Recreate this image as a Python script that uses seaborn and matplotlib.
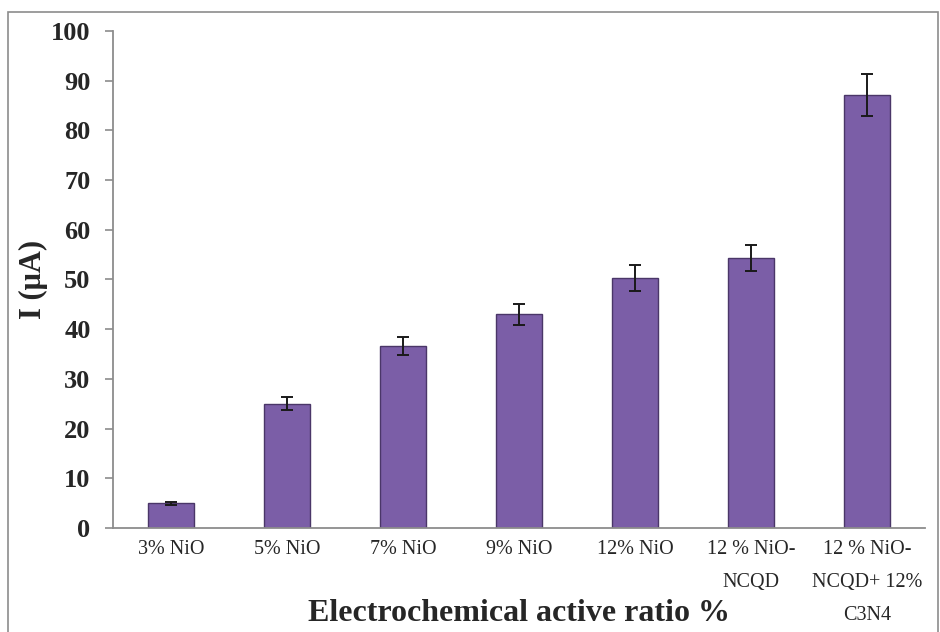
import matplotlib
matplotlib.use("Agg")
import matplotlib.pyplot as plt
import seaborn as sns
import pandas as pd
import numpy as np
from matplotlib.patches import Rectangle

categories = ["3% NiO", "5% NiO", "7% NiO", "9% NiO", "12% NiO",
              "12 % NiO-\nNCQD", "12 % NiO-\nNCQD+ 12%\nC3N4"]
current = [5.0, 25.0, 36.6, 43.0, 50.3, 54.3, 87.1]
errors = [0.3, 1.3, 1.8, 2.1, 2.6, 2.6, 4.3]
yticks = [0, 10, 20, 30, 40, 50, 60, 70, 80, 90, 100]

sns.set_style("white")
plt.rcParams['font.family'] = ['Liberation Serif', 'DejaVu Serif']

fig = plt.figure(figsize=(9.4, 6.32), dpi=100)
ax = fig.add_axes([0.120, 0.1646, 0.864, 0.7864])

df = pd.DataFrame({"cat": categories, "val": current})
sns.barplot(data=df, x="cat", y="val", ax=ax, color="#7b5ea7",
            saturation=1, width=0.4, errorbar=None,
            edgecolor="#4a3668", linewidth=1.0)
ax.errorbar(np.arange(len(categories)), current, yerr=errors, fmt="none",
            ecolor="#1a1a1a", elinewidth=1.4, capsize=4.5, capthick=1.4, zorder=5)

ax.set_ylim(0, 100)
ax.set_xlim(-0.5, len(categories) - 0.5)
ax.set_yticks(yticks)
ax.set_yticklabels([str(t) for t in yticks], fontsize=19, fontweight="bold")
ax.set_xticks(np.arange(len(categories)))
ax.set_xticklabels(categories, fontsize=14.5, linespacing=2.0)
ax.set_xticks(np.arange(-0.5, len(categories)), minor=True)
ax.tick_params(axis="x", which="major", length=0, pad=9)
ax.tick_params(axis="x", which="minor", length=6, color="#8c8c8c", width=1.2, direction="out")
ax.tick_params(axis="y", length=6, color="#8c8c8c", width=1.2, direction="out", pad=10, left=True)

for s in ["top", "right"]:
    ax.spines[s].set_visible(False)
for s in ["left", "bottom"]:
    ax.spines[s].set_color("#8c8c8c")
    ax.spines[s].set_linewidth(1.3)

ax.set_xlabel("Electrochemical active ratio %", fontsize=23, fontweight="bold")
ax.xaxis.set_label_coords(0.5, -0.172)
ax.xaxis.label.set_va("center")
ax.set_ylabel("I (\u03bcA)", fontsize=22, fontweight="bold")
ax.yaxis.set_label_coords(-0.098, 0.5)
ax.yaxis.label.set_va("center")

fig.patches.append(Rectangle((8 / 940, -0.05), (938 - 8) / 940, 1.05 - 12 / 632,
                             transform=fig.transFigure, fill=False,
                             edgecolor="#8c8c8c", linewidth=1.2))

fig.savefig("out.png", dpi=100)
